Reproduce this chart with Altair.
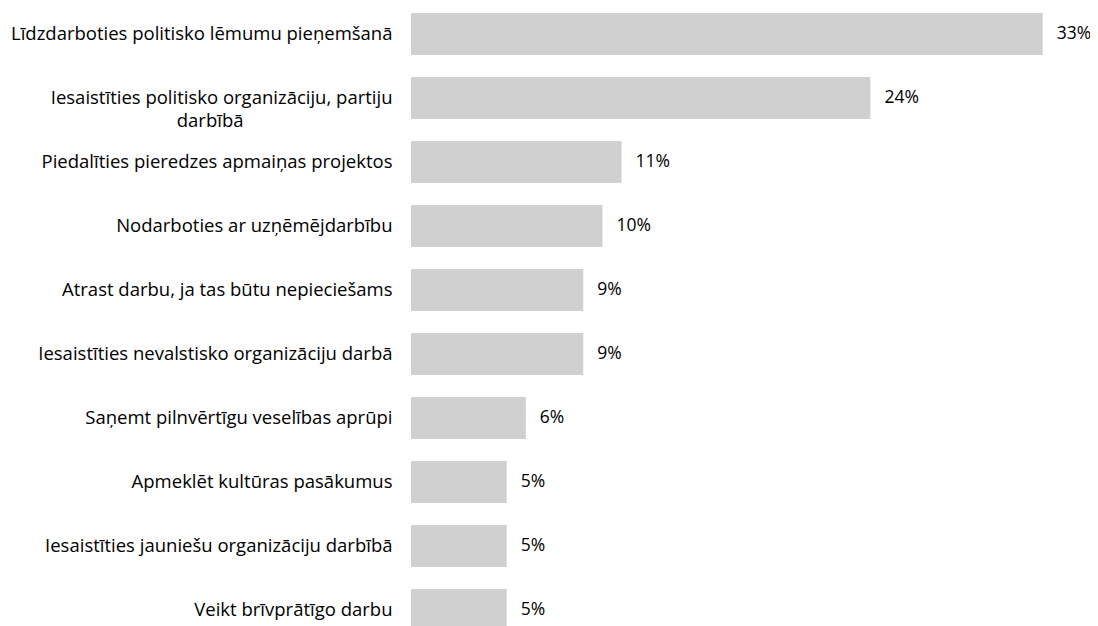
import altair as alt
import pandas as pd

categories = [
    "Līdzdarboties politisko lēmumu pieņemšanā",
    "Iesaistīties politisko organizāciju, partiju darbībā",
    "Piedalīties pieredzes apmaiņas projektos",
    "Nodarboties ar uzņēmējdarbību",
    "Atrast darbu, ja tas būtu nepieciešams",
    "Iesaistīties nevalstisko organizāciju darbā",
    "Saņemt pilnvērtīgu veselības aprūpi",
    "Apmeklēt kultūras pasākumus",
    "Iesaistīties jauniešu organizāciju darbībā",
    "Veikt brīvprātīgo darbu",
]
values = [33, 24, 11, 10, 9, 9, 6, 5, 5, 5]

df = pd.DataFrame({"cat": categories, "val": values})
df["lbl"] = df["val"].astype(str) + "%"

NB = "\u00a0"
ZW = "\u200b"
wrap_from = "Iesaistīties politisko organizāciju, partiju darbībā"
label_expr = (
    f"datum.label == '{wrap_from}' ? "
    f"['Iesaistīties politisko organizāciju, partiju', 'darbībā{NB * 31}{ZW}'] : datum.label"
)

FONT = "Open Sans"
FS = 18.5

y_enc = alt.Y(
    "cat:N",
    sort=categories,
    scale=alt.Scale(range=[-6, 634], paddingInner=0.34, paddingOuter=0.17),
    axis=alt.Axis(
        title=None, domain=False, ticks=False, grid=False,
        labelPadding=19, labelLimit=0, labelFont=FONT, labelFontSize=FS,
        labelColor="#000000", labelLineHeight=23, labelExpr=label_expr,
    ),
)
x_enc = alt.X("val:Q", scale=alt.Scale(domain=[0, 35]), axis=None)

bars = alt.Chart(df).mark_bar(color="#d0d0d0").encode(x=x_enc, y=y_enc)
texts = alt.Chart(df).mark_text(
    align="left", baseline="middle", dx=14, font=FONT, fontSize=17.5, color="#000000"
).encode(x=x_enc, y=y_enc, text="lbl:N")

chart = (
    (bars + texts)
    .properties(
        width=670, height=618,
        autosize=alt.AutoSizeParams(type="none"),
        padding={"left": 403, "top": 0, "right": 9, "bottom": 0},
        background="white",
    )
    .configure_view(strokeWidth=0, stroke=None)
)

chart.save("out.html", embed_options={"renderer": "svg", "actions": False})
